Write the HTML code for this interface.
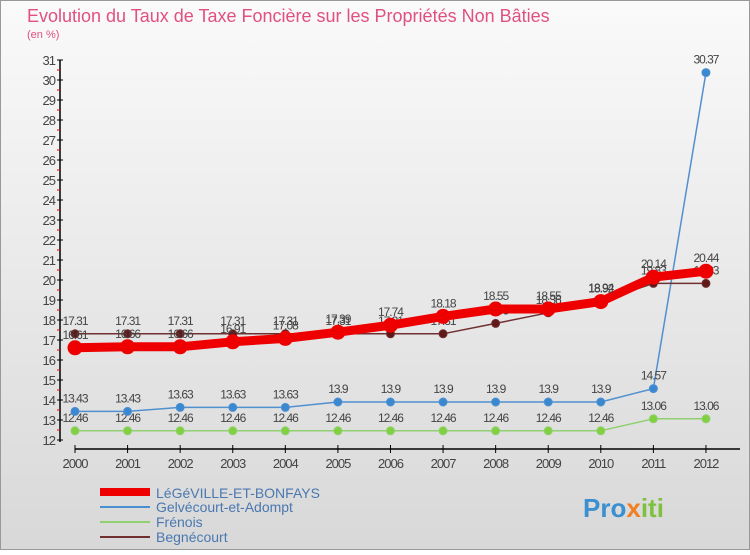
<!DOCTYPE html>
<html><head><meta charset="utf-8"><style>
body{margin:0;width:750px;height:550px;overflow:hidden;font-family:"Liberation Sans",sans-serif}
svg text{font-family:"Liberation Sans",sans-serif}
</style></head><body>
<svg id="c" width="750" height="550" xmlns="http://www.w3.org/2000/svg">
<defs><linearGradient id="bg" x1="0" y1="0" x2="0" y2="1"><stop offset="0" stop-color="#fafafa"/><stop offset="1" stop-color="#d8d8d8"/></linearGradient></defs>
<rect x="0" y="0" width="750" height="550" fill="url(#bg)"/>
<rect x="0.5" y="0.5" width="749" height="549" fill="none" stroke="#999"/>
<text x="27" y="22" font-size="18" fill="#e05080">Evolution du Taux de Taxe Foncière sur les Propriétés Non Bâties</text>
<text x="27" y="38" font-size="11" fill="#e05080">(en %)</text>
<g id="axes"></g><g id="series"></g>
<g>
<rect x="100" y="488" width="50" height="8" fill="#e00"/>
<text x="156" y="498" font-size="14" fill="#4a78b0">LéGéVILLE-ET-BONFAYS</text>
<line x1="100" y1="507" x2="150" y2="507" stroke="#4a90d0" stroke-width="2"/>
<text x="156" y="512" font-size="14" fill="#4a78b0">Gelvécourt-et-Adompt</text>
<line x1="100" y1="522" x2="150" y2="522" stroke="#90d070" stroke-width="2"/>
<text x="156" y="527" font-size="14" fill="#4a78b0">Frénois</text>
<line x1="100" y1="537" x2="150" y2="537" stroke="#703030" stroke-width="2"/>
<text x="156" y="542" font-size="14" fill="#4a78b0">Begnécourt</text>
</g>
<text x="583" y="517" font-size="26" font-weight="bold" fill="#3a90d0">Pro<tspan fill="#f08020">x</tspan><tspan fill="#80c040">iti</tspan></text>
</svg>
<script>
const years=[2000,2001,2002,2003,2004,2005,2006,2007,2008,2009,2010,2011,2012];
const legeville=[16.61,16.66,16.66,16.91,17.08,17.39,17.74,18.18,18.55,18.55,18.92,20.14,20.44];
const gelvecourt=[13.43,13.43,13.63,13.63,13.63,13.9,13.9,13.9,13.9,13.9,13.9,14.57,30.37];
const frenois=[12.46,12.46,12.46,12.46,12.46,12.46,12.46,12.46,12.46,12.46,12.46,13.06,13.06];
const begnecourt=[17.31,17.31,17.31,17.31,17.31,17.31,17.31,17.31,17.83,18.36,18.94,19.83,19.83];
const yTicks=[12,13,14,15,16,17,18,19,20,21,22,23,24,25,26,27,28,29,30,31];
const NS="http://www.w3.org/2000/svg";
const X=i=>75+i*52.58, Y=v=>440-(v-12)*20;
function mk(tag,attrs,parent,txt){const e=document.createElementNS(NS,tag);for(const k in attrs)e.setAttribute(k,attrs[k]);if(txt!==undefined)e.textContent=txt;parent.appendChild(e);return e;}
const ax=document.getElementById('axes'), sg=document.getElementById('series');
let a=mk('line',{x1:60,y1:60,x2:60,y2:442,stroke:'#000','stroke-width':1.5},ax);


a=mk('line',{x1:75,y1:449,x2:740,y2:449,stroke:'#000','stroke-width':1.5},ax);


yTicks.forEach(v=>{
 let t=mk('line',{x1:57,y1:Y(v),x2:63,y2:Y(v),stroke:'#000'},ax);
 
 
 if(v<31){let m=mk('line',{x1:57,y1:Y(v+0.5),x2:60,y2:Y(v+0.5),stroke:'#e00'},ax);
 
 }
 let l=mk('text',{x:55,y:Y(v)+5,'font-size':13,fill:'#444','text-anchor':'end','letter-spacing':'-1'},ax,String(v));
 
 
});
years.forEach((yr,i)=>{
 let t=mk('line',{x1:X(i),y1:445,x2:X(i),y2:453,stroke:'#000'},ax);
 
 
 let l=mk('text',{x:X(i),y:468,'font-size':13,fill:'#444','text-anchor':'middle','letter-spacing':'-1'},ax,String(yr));
 
 
});
function series(vals,name,color,w,r,dot){
 const g=mk('g',{},sg);
 
 
 const p=mk('polyline',{points:vals.map((v,i)=>X(i)+','+Y(v)).join(' '),fill:'none',stroke:color,'stroke-width':w,'stroke-linejoin':'round'},g);
 
 
 vals.forEach((v,i)=>{
  const c=mk('circle',{cx:X(i),cy:Y(v),r:r,fill:dot,stroke:color,'stroke-width':1},g);
  
  
  const t=mk('text',{x:X(i),y:Y(v)-9,'font-size':12,fill:'#444','text-anchor':'middle','letter-spacing':'-1'},g,String(v));
  
  
 });
}
series(frenois,'frenois','#90d070',1.5,4,'#80d040');
series(gelvecourt,'gelvecourt','#5090d0',1.5,4,'#3a88d0');
series(begnecourt,'begnecourt','#703030',1.5,4,'#601818');
series(legeville,'legeville','#ee0000',9,7,'#ee0000');
</script>
</body></html>
